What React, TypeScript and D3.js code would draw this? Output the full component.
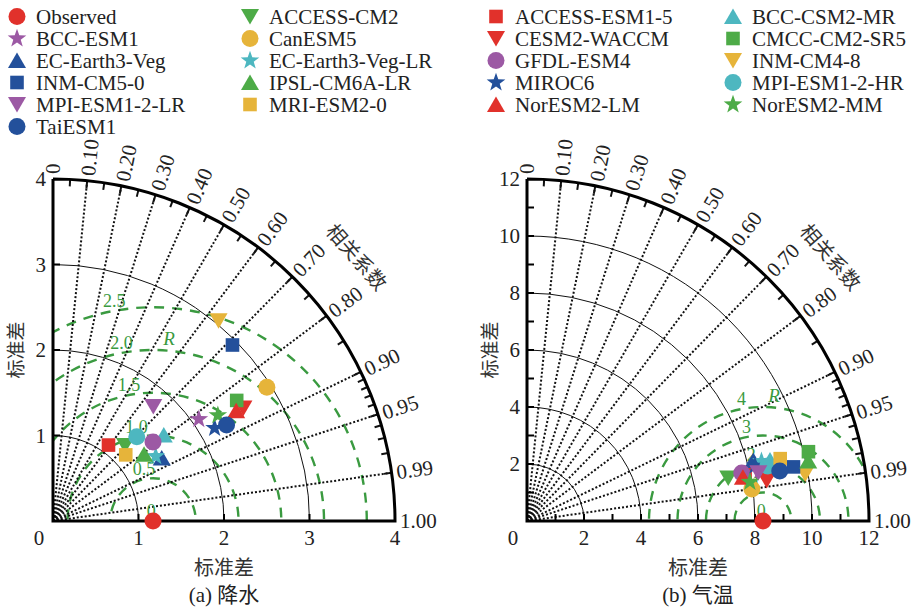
import React, { useRef, useEffect } from 'react';
import * as d3 from 'd3';

// models in plotting order (alphabetical, observed first)
const models = [
  'Observed', 'ACCESS-CM2', 'ACCESS-ESM1-5', 'BCC-CSM2-MR', 'BCC-ESM1', 'CanESM5',
  'CESM2-WACCM', 'CMCC-CM2-SR5', 'EC-Earth3-Veg', 'EC-Earth3-Veg-LR', 'GFDL-ESM4',
  'INM-CM4-8', 'INM-CM5-0', 'IPSL-CM6A-LR', 'MIROC6', 'MPI-ESM1-2-HR', 'MPI-ESM1-2-LR',
  'MRI-ESM2-0', 'NorESM2-LM', 'NorESM2-MM', 'TaiESM1',
];
const shapes = [
  'circle', 'down', 'square', 'up', 'star', 'circle',
  'down', 'square', 'up', 'star', 'circle',
  'down', 'square', 'up', 'star', 'circle', 'down',
  'square', 'up', 'star', 'circle',
];
const colorNames = [
  'red', 'green', 'red', 'cyan', 'purple', 'yellow',
  'red', 'green', 'blue', 'cyan', 'purple',
  'yellow', 'blue', 'green', 'blue', 'cyan', 'purple',
  'yellow', 'red', 'green', 'blue',
];
const palette = {
  red: '#e1312b',
  green: '#4dab47',
  purple: '#9c59a4',
  blue: '#23509b',
  cyan: '#4db7c0',
  yellow: '#e6b43a',
};

// (a) precipitation
const precipStd = [1.17, 1.22, 1.1, 1.64, 2.08, 2.95, 2.59, 2.57, 1.47, 1.42, 1.49, 3.04, 2.94, 1.32, 2.18, 1.39, 1.78, 1.15, 2.5, 2.29, 2.32];
const precipCorr = [1, 0.69, 0.59, 0.79, 0.82, 0.848, 0.86, 0.836, 0.865, 0.846, 0.785, 0.637, 0.714, 0.807, 0.867, 0.705, 0.659, 0.74, 0.857, 0.842, 0.875];

// (b) air temperature
const tempStd = [8.28, 7.22, 7.84, 8.79, 8.37, 7.97, 8.53, 10.17, 8.22, 8.49, 7.72, 9.9, 9.54, 10.09, 8.23, 8.67, 8.29, 9.15, 7.73, 7.94, 9.04];
const tempCorr = [1, 0.978, 0.976, 0.97, 0.977, 0.99, 0.986, 0.971, 0.966, 0.969, 0.976, 0.986, 0.98, 0.978, 0.972, 0.975, 0.979, 0.971, 0.98, 0.985, 0.981];

const corrTicks = [0, 0.1, 0.2, 0.3, 0.4, 0.5, 0.6, 0.7, 0.8, 0.9, 0.95, 0.99, 1];
const corrLabels = ['0', '0.10', '0.20', '0.30', '0.40', '0.50', '0.60', '0.70', '0.80', '0.90', '0.95', '0.99', '1.00'];
const corrMinor = [0.05, 0.15, 0.25, 0.35, 0.45, 0.55, 0.65, 0.75, 0.85, 0.91, 0.92, 0.93, 0.94, 0.96, 0.97, 0.98];

const precipStdTicks = [1, 2, 3, 4];
const precipStdLabels = [1, 2, 3, 4];
const precipArcs = [1, 2, 3];
const precipRms = [0.5, 1, 1.5, 2, 2.5];
const precipRmsLabels = ['0', '0.5', '1.0', '1.5', '2.0', '2.5'];

const tempStdTicks = [1, 2, 3, 4, 5, 6, 7, 8, 9, 10, 11, 12];
const tempStdLabels = [2, 4, 6, 8, 10, 12];
const tempArcs = [2, 4, 6, 8, 10];
const tempRms = [1, 2, 3, 4];
const tempRmsLabels = ['0', '1', '2', '3', '4'];

const serif = "'Liberation Serif', 'Times New Roman', Times, 'DejaVu Serif', serif";
const cjk = "'Noto Sans CJK SC', sans-serif";
const green = '#3a9a40';

const markerPath = (shape) => {
  const p = d3.path();
  if (shape === 'circle') {
    p.arc(0, 0, 8.5, 0, Math.PI * 2);
  } else if (shape === 'square') {
    p.rect(-6.8, -6.8, 13.6, 13.6);
  } else if (shape === 'up') {
    p.moveTo(0, -8); p.lineTo(9, 7.5); p.lineTo(-9, 7.5); p.closePath();
  } else if (shape === 'down') {
    p.moveTo(0, 8); p.lineTo(9, -7.5); p.lineTo(-9, -7.5); p.closePath();
  } else {
    for (let k = 0; k < 10; k++) {
      const r = k % 2 === 0 ? 9.8 : 3.9;
      const a = -Math.PI / 2 + (k * Math.PI) / 5;
      if (k === 0) p.moveTo(r * Math.cos(a), r * Math.sin(a));
      else p.lineTo(r * Math.cos(a), r * Math.sin(a));
    }
    p.closePath();
  }
  return p.toString();
};

// latin text
const tx = (sel, size) =>
  sel.attr('font-family', serif).attr('font-size', size).attr('fill', '#222');
// chinese text
const cx = (sel, size) =>
  sel.attr('font-family', cjk).attr('font-size', size).attr('fill', '#333');

const drawTaylor = (svg, cfg) => {
  const R = 342;
  const ox = cfg.ox;
  const oy = 521;
  const s = d3.scaleLinear().domain([0, cfg.max]).range([0, R]);
  const g = svg.append('g');
  const pt = (std, corr) => [ox + s(std) * corr, oy - s(std) * Math.sqrt(Math.max(0, 1 - corr * corr))];

  const clipId = 'clip-' + cfg.id;
  g.append('clipPath')
    .attr('id', clipId)
    .append('path')
    .attr('d', `M${ox},${oy} L${ox},${oy - R} A${R},${R} 0 0 1 ${ox + R},${oy} Z`);

  // RMS circles
  const obsX = ox + s(cfg.std[0]);
  g.append('g')
    .attr('clip-path', `url(#${clipId})`)
    .selectAll('circle')
    .data(cfg.rms)
    .join('circle')
    .attr('cx', obsX)
    .attr('cy', oy)
    .attr('r', (d) => s(d))
    .attr('fill', 'none')
    .attr('stroke', green)
    .attr('stroke-width', 2.4)
    .attr('stroke-dasharray', '10,8');

  // std arcs
  g.selectAll('.sarc')
    .data(cfg.arcs)
    .join('path')
    .attr('d', (d) => {
      const p = d3.path();
      p.moveTo(ox, oy - s(d));
      p.arc(ox, oy, s(d), -Math.PI / 2, 0);
      return p.toString();
    })
    .attr('fill', 'none')
    .attr('stroke', '#111')
    .attr('stroke-width', 1);

  // correlation rays
  g.selectAll('.ray')
    .data(corrTicks.slice(1, -1))
    .join('line')
    .attr('x1', ox)
    .attr('y1', oy)
    .attr('x2', (d) => pt(cfg.max, d)[0])
    .attr('y2', (d) => pt(cfg.max, d)[1])
    .attr('stroke', '#111')
    .attr('stroke-width', 2)
    .attr('stroke-dasharray', '2,2');

  // outer arc ticks
  const tick = (list, len) =>
    g.append('g')
      .selectAll('line')
      .data(list)
      .join('line')
      .attr('x1', (d) => pt(cfg.max, d)[0])
      .attr('y1', (d) => pt(cfg.max, d)[1])
      .attr('x2', (d) => pt(cfg.max * (1 - len / R), d)[0])
      .attr('y2', (d) => pt(cfg.max * (1 - len / R), d)[1])
      .attr('stroke', '#111')
      .attr('stroke-width', 2);
  tick(corrTicks, 8);
  tick(corrMinor, 7);

  // frame
  g.append('path')
    .attr('d', `M${ox},${oy - R} L${ox},${oy} L${ox + R},${oy} A${R},${R} 0 0 0 ${ox},${oy - R}`)
    .attr('fill', 'none')
    .attr('stroke', '#000')
    .attr('stroke-width', 3);

  // std axis ticks
  g.append('g')
    .selectAll('line')
    .data(cfg.stdTicks)
    .join('line')
    .attr('x1', (d) => ox + s(d))
    .attr('x2', (d) => ox + s(d))
    .attr('y1', oy)
    .attr('y2', oy - 7)
    .attr('stroke', '#000')
    .attr('stroke-width', 2);
  g.append('g')
    .selectAll('line')
    .data(cfg.stdTicks)
    .join('line')
    .attr('y1', (d) => oy - s(d))
    .attr('y2', (d) => oy - s(d))
    .attr('x1', ox)
    .attr('x2', ox + 7)
    .attr('stroke', '#000')
    .attr('stroke-width', 2);

  // std tick labels
  tx(g.append('text'), 21)
    .attr('x', ox - 14)
    .attr('y', oy + 24)
    .attr('text-anchor', 'middle')
    .text('0');
  tx(
    g.append('g')
      .selectAll('text')
      .data(cfg.stdLabels)
      .join('text'),
    21
  )
    .attr('x', (d) => ox + s(d))
    .attr('y', oy + 24)
    .attr('text-anchor', 'middle')
    .text((d) => d);
  tx(
    g.append('g')
      .selectAll('text')
      .data(cfg.stdLabels)
      .join('text'),
    21
  )
    .attr('x', ox - 7)
    .attr('y', (d) => oy - s(d))
    .attr('dy', '0.35em')
    .attr('text-anchor', 'end')
    .text((d) => d);

  // correlation labels
  tx(
    g.append('g')
      .selectAll('text')
      .data(corrTicks)
      .join('text'),
    21
  )
    .attr('transform', (d) => {
      const [x, y] = pt(cfg.max * (1 + 5 / R), d);
      const ang = (Math.acos(d) * 180) / Math.PI;
      return `translate(${x},${y}) rotate(${-ang})`;
    })
    .attr('dy', '0.35em')
    .text((d, i) => corrLabels[i]);

  cx(g.append('text'), 20)
    .attr('transform', () => {
      const a = (41 * Math.PI) / 180;
      return `translate(${ox + 402 * Math.cos(a)},${oy - 402 * Math.sin(a)}) rotate(49)`;
    })
    .attr('text-anchor', 'middle')
    .attr('dy', '0.35em')
    .text('相关系数');

  // axis titles
  cx(g.append('text'), 20)
    .attr('x', ox + R / 2)
    .attr('y', oy + 47)
    .attr('dy', '0.35em')
    .attr('text-anchor', 'middle')
    .text('标准差');
  cx(g.append('text'), 19)
    .attr('transform', `translate(${ox - 37},${oy - R / 2}) rotate(-90)`)
    .attr('dy', '0.35em')
    .attr('text-anchor', 'middle')
    .text('标准差');
  tx(g.append('text'), 21)
    .attr('font-family', `${serif}, 'Noto Sans CJK SC'`)
    .attr('x', ox + R / 2)
    .attr('y', oy + 74)
    .attr('dy', '0.35em')
    .attr('text-anchor', 'middle')
    .text(cfg.caption);

  // RMS labels
  const la = (100 * Math.PI) / 180;
  tx(
    g.append('g')
      .selectAll('text')
      .data([0, ...cfg.rms])
      .join('text'),
    18
  )
    .attr('x', (d) => obsX + (s(d) + 10) * Math.cos(la))
    .attr('y', (d) => oy - (s(d) + 10) * Math.sin(la))
    .attr('dy', '0.35em')
    .attr('text-anchor', 'middle')
    .attr('fill', green)
    .text((d, i) => cfg.rmsLabels[i]);
  const ra = (85 * Math.PI) / 180;
  tx(g.append('text'), 19)
    .attr('x', obsX + (s(cfg.rLabelAt) + 12) * Math.cos(ra))
    .attr('y', oy - (s(cfg.rLabelAt) + 12) * Math.sin(ra))
    .attr('dy', '0.35em')
    .attr('text-anchor', 'middle')
    .attr('font-style', 'italic')
    .attr('fill', green)
    .text('R');

  // model markers
  g.append('g')
    .selectAll('path')
    .data(models.map((m, i) => i))
    .join('path')
    .attr('transform', (i) => {
      const [x, y] = pt(cfg.std[i], cfg.corr[i]);
      return `translate(${x},${y})`;
    })
    .attr('d', (i) => markerPath(shapes[i]))
    .attr('fill', (i) => palette[colorNames[i]]);
};

const drawLegend = (svg) => {
  const colX = [17, 250, 496, 733];
  const g = svg.append('g');
  const items = g
    .selectAll('g')
    .data(models.map((m, i) => i))
    .join('g')
    .attr('transform', (i) => `translate(${colX[i % 4]},${16.5 + Math.floor(i / 4) * 22})`);
  items
    .append('path')
    .attr('d', (i) => markerPath(shapes[i]))
    .attr('fill', (i) => palette[colorNames[i]]);
  tx(items.append('text'), 21)
    .attr('x', 19)
    .attr('dy', '0.35em')
    .text((i) => models[i]);
};

const App = () => {
  const svgRef = useRef();

  useEffect(() => {
    const svg = d3.select(svgRef.current);
    svg.selectAll('*').remove();
    svg.append('rect').attr('width', 912).attr('height', 607).attr('fill', '#fff');

    drawLegend(svg);
    drawTaylor(svg, {
      id: 'a',
      ox: 53,
      max: 4,
      std: precipStd,
      corr: precipCorr,
      stdTicks: precipStdTicks,
      stdLabels: precipStdLabels,
      arcs: precipArcs,
      rms: precipRms,
      rmsLabels: precipRmsLabels,
      rLabelAt: 2,
      caption: '(a) 降水',
    });
    drawTaylor(svg, {
      id: 'b',
      ox: 527,
      max: 12,
      std: tempStd,
      corr: tempCorr,
      stdTicks: tempStdTicks,
      stdLabels: tempStdLabels,
      arcs: tempArcs,
      rms: tempRms,
      rmsLabels: tempRmsLabels,
      rLabelAt: 4,
      caption: '(b) 气温',
    });
  }, []);

  return (
    <svg
      ref={svgRef}
      width={912}
      height={607}
      style={{ position: 'absolute', left: 0, top: 0, display: 'block' }}
    ></svg>
  );
};

export default App;
